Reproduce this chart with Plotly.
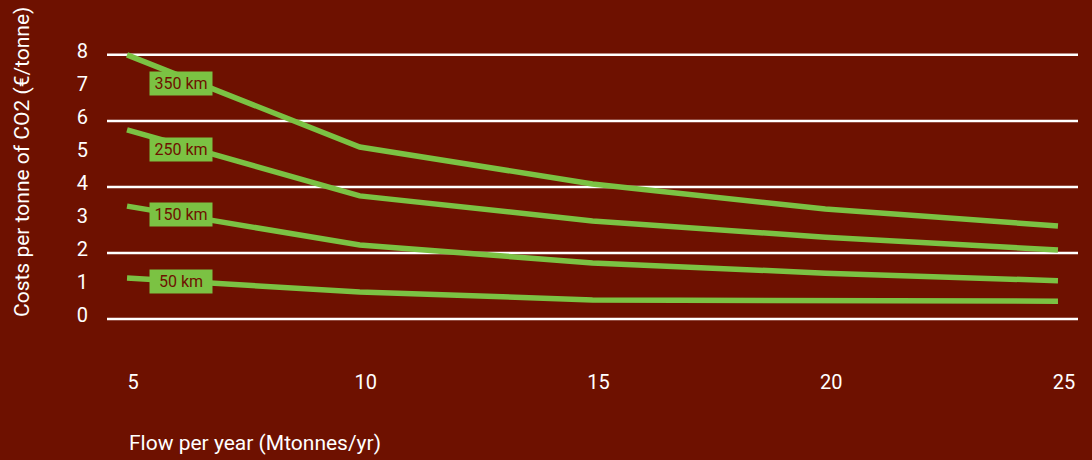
import plotly.graph_objects as go

flow = [5, 10, 15, 20, 25]
series_names = ["350 km", "250 km", "150 km", "50 km"]
cost_350 = [8.0, 5.21, 4.09, 3.33, 2.82]
cost_250 = [5.73, 3.73, 2.97, 2.48, 2.09]
cost_150 = [3.42, 2.24, 1.70, 1.39, 1.16]
cost_50 = [1.24, 0.82, 0.58, 0.55, 0.54]
series_values = [cost_350, cost_250, cost_150, cost_50]
label_y = [7.12, 5.12, 3.18, 1.15]
y_ticks = [0, 1, 2, 3, 4, 5, 6, 7, 8]
grid_vals = [0, 2, 4, 6, 8]
x_ticks = [5, 10, 15, 20, 25]

BG = "#6E1100"
GREEN = "#7BC243"
FONT = "Roboto"

fig = go.Figure()
for name, vals in zip(series_names, series_values):
    fig.add_trace(go.Scatter(x=flow, y=vals, mode="lines", name=name,
                             line=dict(color=GREEN, width=5.5),
                             showlegend=False, hoverinfo="skip"))

shapes = [dict(type="line", xref="paper", yref="y", x0=0, x1=1, y0=g, y1=g,
               line=dict(color="white", width=2.5), layer="below") for g in grid_vals]

annotations = []
for name, ly in zip(series_names, label_y):
    annotations.append(dict(x=6.16, y=ly, xref="x", yref="y", text=name,
                            showarrow=False, bgcolor=GREEN, width=58, height=19,
                            borderpad=2, font=dict(family=FONT, size=16, color=BG)))
annotations.append(dict(text="Flow per year (Mtonnes/yr)", showarrow=False,
                        font=dict(family=FONT, size=21, color="white")))
annotations.append(dict(text="Costs per tonne of CO2 (€/tonne)", textangle=-90, showarrow=False,
                        font=dict(family=FONT, size=21, color="white")))

fig.update_layout(
    width=1092, height=460,
    paper_bgcolor=BG, plot_bgcolor=BG,
    margin=dict(l=107, r=14, t=40, b=100),
    shapes=shapes,
    font=dict(family=FONT, size=20, color="white"),
)
plot_w = 1092 - 107 - 14
plot_h = 460 - 40 - 100
annotations[-2].update(xref="paper", yref="paper", x=(127 - 107) / plot_w, y=(360 - 443) / plot_h,
                       xanchor="left", yanchor="middle")
annotations[-1].update(xref="paper", yref="paper", x=(22 - 107) / plot_w, y=(360 - 162) / plot_h,
                       xanchor="center", yanchor="middle")
fig.update_layout(annotations=annotations)

fig.update_xaxes(range=[4.57, 25.43], tickvals=x_ticks, showgrid=False, zeroline=False,
                 showline=False, ticks="", ticklabelstandoff=8, ticklabelshift=6,
                 tickfont=dict(family=FONT, size=20, color="white"))
fig.update_yaxes(range=[-1.24, 8.45], tickvals=y_ticks, showgrid=False, zeroline=False,
                 showline=False, ticks="", ticklabelstandoff=18, ticklabelshift=-4,
                 tickfont=dict(family=FONT, size=20, color="white"))

fig.write_html("out.html")
